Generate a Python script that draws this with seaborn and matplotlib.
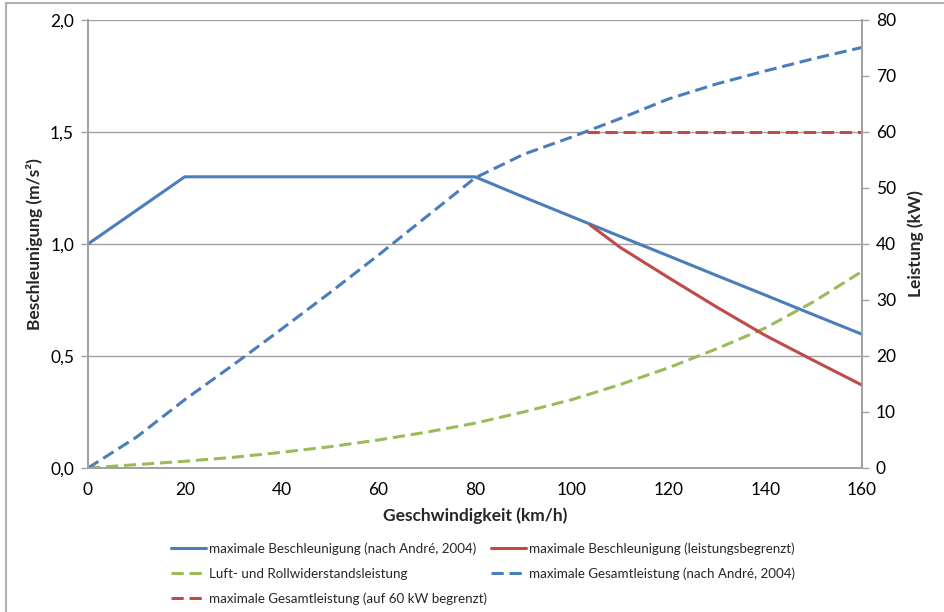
import matplotlib
matplotlib.use('Agg')
import matplotlib.pyplot as plt
from matplotlib.lines import Line2D
from matplotlib.ticker import FuncFormatter, MultipleLocator
import seaborn as sns
import pandas as pd

# Geschwindigkeit (km/h)
speed = [0, 10, 20, 30, 40, 50, 60, 70, 80, 90, 100, 110, 120, 130, 140, 150, 160]

# maximale Beschleunigung nach André (m/s²)
accel_andre = [1.0, 1.15, 1.3, 1.3, 1.3, 1.3, 1.3, 1.3, 1.3, 1.21, 1.122,
               1.034, 0.947, 0.859, 0.772, 0.684, 0.597]

# maximale Beschleunigung, leistungsbegrenzt (ab ca. 104 km/h)
speed_limited = [103.8, 110, 120, 130, 140, 150, 160]
accel_limited = [1.085, 0.985, 0.85, 0.718, 0.592, 0.48, 0.37]

# Luft- und Rollwiderstandsleistung (kW)
power_resist = [0, 0.6, 1.2, 1.9, 2.8, 3.8, 5.0, 6.4, 8.0, 10.0, 12.2,
                14.9, 17.9, 21.3, 25.0, 29.7, 35.1]

# maximale Gesamtleistung nach André (kW)
power_total = [0, 5.5, 12.2, 18.4, 24.8, 31.3, 38.0, 44.9, 51.8, 56.0, 59.1,
               62.4, 65.9, 68.6, 70.9, 73.1, 75.1]

# maximale Gesamtleistung, auf 60 kW begrenzt
speed_cap = [103.2, 160]
power_cap = [60, 60]

blue = '#4a7ebb'
red = '#be4b48'
green = '#9bbb59'
grey = '#a0a0a0'

sns.set_style('white')
plt.rcParams['font.family'] = ['Lato', 'DejaVu Sans']

df_a = pd.DataFrame({'v': speed, 'a': accel_andre})
df_l = pd.DataFrame({'v': speed_limited, 'a': accel_limited})
df_r = pd.DataFrame({'v': speed, 'p': power_resist})
df_t = pd.DataFrame({'v': speed, 'p': power_total})
df_c = pd.DataFrame({'v': speed_cap, 'p': power_cap})

fig = plt.figure(figsize=(9.45, 6.12), dpi=100)
ax = fig.add_axes([88 / 945, 1 - 468 / 612, (862 - 88) / 945, (468 - 20) / 612])
ax2 = ax.twinx()

lw = 2.2
dash = (0, (4.0, 1.9))

# horizontal gridlines live on the power axis so that every line sits above them
for g in [20, 40, 60, 80]:
    ax2.axhline(g, color=grey, lw=1, zorder=0.5)

sns.lineplot(data=df_r, x='v', y='p', ax=ax2, color=green, lw=lw, linestyle=dash)
sns.lineplot(data=df_t, x='v', y='p', ax=ax2, color=blue, lw=lw, linestyle=dash)
sns.lineplot(data=df_c, x='v', y='p', ax=ax2, color=red, lw=lw, linestyle=dash)
sns.lineplot(data=df_a, x='v', y='a', ax=ax, color=blue, lw=lw)
sns.lineplot(data=df_l, x='v', y='a', ax=ax, color=red, lw=lw)

# left axis above the twin so the solid lines sit on top
ax.set_zorder(ax2.get_zorder() + 1)
ax.patch.set_visible(False)

ax.set_xlim(0, 160)
ax.set_ylim(0, 2.0)
ax2.set_ylim(0, 80)
ax.xaxis.set_major_locator(MultipleLocator(20))
ax.yaxis.set_major_locator(MultipleLocator(0.5))
ax2.yaxis.set_major_locator(MultipleLocator(10))
ax.yaxis.set_major_formatter(FuncFormatter(lambda y, p: f'{y:.1f}'.replace('.', ',')))

ax.grid(False)
ax2.grid(False)

for a in (ax, ax2):
    for s in a.spines.values():
        s.set_color(grey)
        s.set_linewidth(1.2)
    a.spines['top'].set_visible(False)
    a.tick_params(colors=grey, labelcolor='black', labelsize=12.5, length=5,
                  width=1, direction='out')
ax.tick_params(axis='x', pad=5)
ax.tick_params(axis='y', pad=5)
ax2.tick_params(axis='y', pad=5)

ax.set_xlabel('Geschwindigkeit (km/h)', fontsize=12.5, fontweight='bold', labelpad=7)
ax.set_ylabel('Beschleunigung (m/s²)', fontsize=12.5, fontweight='bold', labelpad=5)
ax2.set_ylabel('Leistung (kW)', fontsize=12.5, fontweight='bold', labelpad=8)

handles = [
    Line2D([], [], color=blue, lw=lw),
    Line2D([], [], color=green, lw=lw, linestyle=dash),
    Line2D([], [], color=red, lw=lw, linestyle=dash),
    Line2D([], [], color=red, lw=lw),
    Line2D([], [], color=blue, lw=lw, linestyle=dash),
]
labels = [
    'maximale Beschleunigung (nach André, 2004)',
    'Luft- und Rollwiderstandsleistung',
    'maximale Gesamtleistung (auf 60 kW begrenzt)',
    'maximale Beschleunigung (leistungsbegrenzt)',
    'maximale Gesamtleistung (nach André, 2004)',
]
fig.legend(handles, labels, ncol=2, loc='upper left', bbox_to_anchor=(166 / 945, 1 - 537 / 612),
           frameon=False, fontsize=9.6, handlelength=2.6, handletextpad=0.2,
           columnspacing=0.35, labelspacing=0.95, borderaxespad=0)

# chart frame (Excel style)
fig.add_artist(Line2D([6 / 945, 6 / 945], [0, 1 - 3 / 612], color='#b0b0b0', lw=1.5))
fig.add_artist(Line2D([6 / 945, 1], [1 - 3 / 612, 1 - 3 / 612], color='#b0b0b0', lw=1.5))

plt.savefig('out.png', dpi=100)
print('done')
